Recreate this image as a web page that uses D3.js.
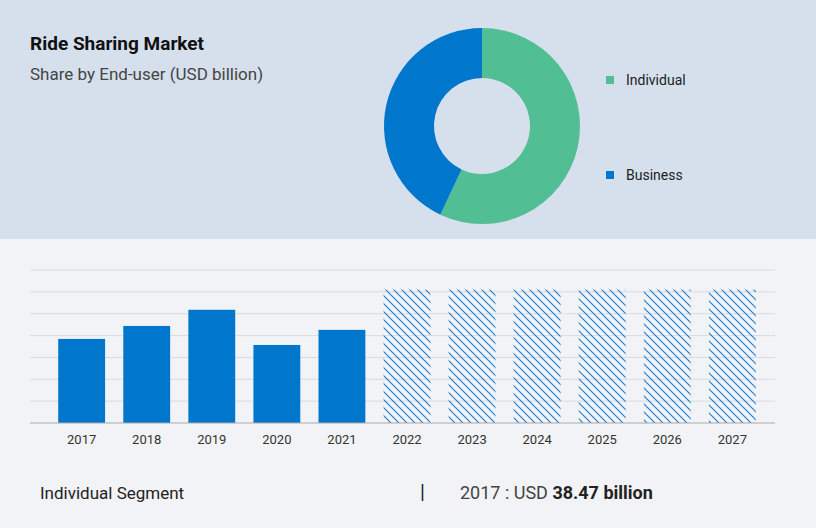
<!DOCTYPE html>
<html>
<head>
<meta charset="utf-8">
<script src="https://cdn.jsdelivr.net/npm/d3@7"></script>
<style>
body { margin: 0; font-family: Roboto, "Open Sans", sans-serif; }
</style>
</head>
<body>
<div id="chart"></div>
<script>
var years = ["2017", "2018", "2019", "2020", "2021", "2022", "2023", "2024", "2025", "2026", "2027"];
var values = [38.47, 44.4, 51.8, 35.7, 42.6, 61, 61, 61, 61, 61, 61];
var forecast = [false, false, false, false, false, true, true, true, true, true, true];
var segments = ["Individual", "Business"];
var shares = [57, 43];
var segColors = ["#52be94", "#0077cc"];
var yTicks = [0, 10, 20, 30, 40, 50, 60, 70];

var svg = d3.select("#chart").append("svg").attr("width", 816).attr("height", 528);

var defs = svg.append("defs");
var pat = defs.append("pattern").attr("id", "hatch").attr("patternUnits", "userSpaceOnUse")
        .attr("width", 8).attr("height", 8);
pat.append("path").attr("d", "M-2,-2 L10,10 M-2,6 L2,10 M6,-2 L10,2")
        .attr("stroke", "#1f7fd0").attr("stroke-width", 1.2);

svg.append("rect").attr("width", 816).attr("height", 239).attr("fill", "#d5e0ec");
svg.append("rect").attr("y", 239).attr("width", 816).attr("height", 289).attr("fill", "#f2f3f6");

svg.append("text").attr("x", 30).attr("y", 50).text("Ride Sharing Market")
        .attr("font-size", 19).attr("font-weight", "bold").attr("fill", "#111");
svg.append("text").attr("x", 30).attr("y", 80).text("Share by End-user (USD billion)")
        .attr("font-size", 17).attr("fill", "#444");

// donut
var pie = d3.pie().sort(null).value(function(d) { return d; });
var arc = d3.arc().innerRadius(48).outerRadius(98);
svg.append("g").attr("transform", "translate(482,126)")
        .selectAll("path").data(pie(shares)).enter().append("path")
        .attr("d", arc).attr("fill", function(d, i) { return segColors[i]; });

var legend = svg.append("g").selectAll("g").data(segments).enter().append("g")
        .attr("transform", function(d, i) { return "translate(606," + (80 + i * 95) + ")"; });
legend.append("rect").attr("y", -4).attr("width", 8).attr("height", 8)
        .attr("fill", function(d, i) { return segColors[i]; });
legend.append("text").attr("x", 20).attr("y", 5).text(function(d) { return d; })
        .attr("font-size", 14).attr("fill", "#222");

// bars
var x = d3.scaleBand().domain(years).range([40, 774]).padding(0.28);
var y = d3.scaleLinear().domain([0, 70]).range([423, 270]);

svg.append("g").selectAll("line").data(yTicks.slice(1)).enter().append("line")
        .attr("x1", 30).attr("x2", 775)
        .attr("y1", function(d) { return y(d); }).attr("y2", function(d) { return y(d); })
        .attr("stroke", "#d9dbe0");

svg.append("g").selectAll("rect").data(values).enter().append("rect")
        .attr("x", function(d, i) { return x(years[i]); })
        .attr("y", function(d) { return y(d); })
        .attr("width", x.bandwidth())
        .attr("height", function(d) { return y(0) - y(d); })
        .attr("fill", function(d, i) { return forecast[i] ? "url(#hatch)" : "#0077cc"; });

var xAxis = svg.append("g").attr("transform", "translate(0,423)")
        .call(d3.axisBottom(x).tickSize(0).tickPadding(12));
xAxis.select(".domain").attr("d", "M30,0H775").attr("stroke", "#aaa");
xAxis.selectAll("text").attr("font-size", 13).attr("fill", "#333")
        .attr("font-family", "Roboto, sans-serif");

// footer
svg.append("text").attr("x", 40).attr("y", 499).text("Individual Segment")
        .attr("font-size", 17).attr("fill", "#222");
svg.append("text").attr("x", 420).attr("y", 499).text("|")
        .attr("font-size", 20).attr("fill", "#222");
var ft = svg.append("text").attr("x", 460).attr("y", 499).attr("font-size", 18).attr("fill", "#444");
ft.append("tspan").text("2017 : USD ");
ft.append("tspan").text("38.47 billion").attr("font-weight", "bold").attr("fill", "#222");
</script>
</body>
</html>
